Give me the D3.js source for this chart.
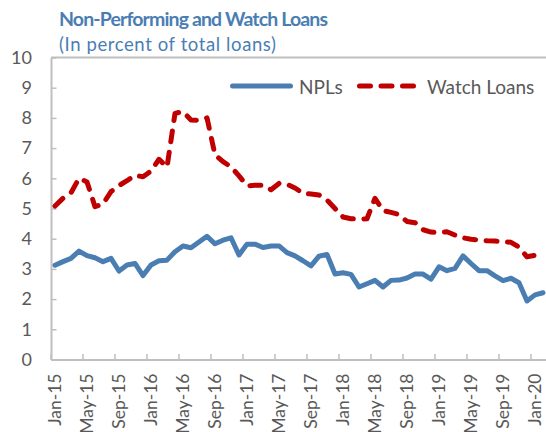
<!DOCTYPE html>
<html>
<head>
<meta charset="utf-8">
<script src="https://cdn.jsdelivr.net/npm/d3@7"></script>
<style>
  body { margin: 0; background: #fff; }
  svg { display: block; font-family: Lato, "Open Sans", sans-serif; }
</style>
</head>
<body>
<script>
// monthly categories, Jan-15 .. Feb-20
const months = [
  'Jan-15','Feb-15','Mar-15','Apr-15','May-15','Jun-15','Jul-15','Aug-15','Sep-15','Oct-15','Nov-15','Dec-15',
  'Jan-16','Feb-16','Mar-16','Apr-16','May-16','Jun-16','Jul-16','Aug-16','Sep-16','Oct-16','Nov-16','Dec-16',
  'Jan-17','Feb-17','Mar-17','Apr-17','May-17','Jun-17','Jul-17','Aug-17','Sep-17','Oct-17','Nov-17','Dec-17',
  'Jan-18','Feb-18','Mar-18','Apr-18','May-18','Jun-18','Jul-18','Aug-18','Sep-18','Oct-18','Nov-18','Dec-18',
  'Jan-19','Feb-19','Mar-19','Apr-19','May-19','Jun-19','Jul-19','Aug-19','Sep-19','Oct-19','Nov-19','Dec-19',
  'Jan-20','Feb-20'
];

const npl = [
  3.12, 3.24, 3.35, 3.59, 3.44, 3.37, 3.24, 3.35, 2.93, 3.13, 3.18, 2.78,
  3.13, 3.27, 3.29, 3.57, 3.76, 3.70, 3.89, 4.08, 3.83, 3.95, 4.03, 3.46,
  3.82, 3.82, 3.71, 3.76, 3.76, 3.54, 3.43, 3.27, 3.10, 3.42, 3.48, 2.83,
  2.87, 2.82, 2.40, 2.51, 2.62, 2.40, 2.62, 2.63, 2.70, 2.83, 2.83, 2.66,
  3.07, 2.94, 3.02, 3.43, 3.18, 2.94, 2.94, 2.77, 2.61, 2.69, 2.54, 1.94,
  2.14, 2.21
];

const watchLoans = [
  5.08, 5.34, 5.52, 6.00, 5.88, 5.06, 5.15, 5.56, 5.76, 5.92, 6.10, 6.05,
  6.24, 6.63, 6.37, 8.15, 8.21, 7.93, 7.92, 8.00, 6.78, 6.55, 6.38, 6.08,
  5.75, 5.77, 5.77, 5.62, 5.83, 5.80, 5.68, 5.50, 5.48, 5.45, 5.28, 5.00,
  4.72, 4.66, 4.65, 4.66, 5.34, 4.93, 4.87, 4.80, 4.57, 4.53, 4.30, 4.22,
  4.20, 4.23, 4.12, 4.03, 3.98, 3.96, 3.93, 3.92, 3.90, 3.88, 3.72, 3.40,
  3.45, 3.43
];

const yTicks = [0, 1, 2, 3, 4, 5, 6, 7, 8, 9, 10];
const xTickLabels = months.filter((d, i) => i % 4 === 0);

const blue = '#4a7eb3';
const red = '#c00000';
const grey = '#595959';
const axisGrey = '#bfbfbf';

const width = 546, height = 432;
const svg = d3.select('body').append('svg')
  .attr('width', width)
  .attr('height', height);

const x = d3.scaleBand()
  .domain(months)
  .range([51, 51 + 8 * months.length]);

const y = d3.scaleLinear()
  .domain([0, 10])
  .range([359.5, 57.5]);

const cx = (i) => x(months[i]) + x.bandwidth() / 2;

// title
svg.append('text')
  .attr('x', 59).attr('y', 26)
  .attr('fill', blue)
  .attr('font-weight', 'bold')
  .attr('font-size', 19.5)
  .attr('textLength', 269)
  .attr('lengthAdjust', 'spacing')
  .text('Non-Performing and Watch Loans');

svg.append('text')
  .attr('x', 59).attr('y', 51)
  .attr('fill', blue)
  .attr('font-size', 18.5)
  .attr('textLength', 217)
  .attr('lengthAdjust', 'spacing')
  .text('(In percent of total loans)');

// top border of plot
svg.append('line')
  .attr('x1', x.range()[0]).attr('x2', x.range()[1])
  .attr('y1', y(10)).attr('y2', y(10))
  .attr('stroke', axisGrey).attr('stroke-width', 2);

// y axis
const yAxis = svg.append('g')
  .attr('transform', 'translate(' + x.range()[0] + ',0)')
  .call(d3.axisLeft(y).tickValues(yTicks).tickSize(-5.5).tickSizeOuter(0).tickPadding(19));
yAxis.select('.domain').attr('stroke', axisGrey).attr('stroke-width', 2);
yAxis.selectAll('.tick line').attr('stroke', axisGrey).attr('stroke-width', 1.5);
yAxis.selectAll('.tick text')
  .attr('fill', grey)
  .attr('font-size', 18)
  .attr('font-family', 'Lato, sans-serif');

// x axis: labels at category centres, tick marks on category boundaries
const xAxis = svg.append('g')
  .attr('transform', 'translate(0,' + y(0) + ')')
  .call(d3.axisBottom(x).tickValues(xTickLabels).tickSize(0).tickSizeOuter(0));
xAxis.select('.domain').attr('stroke', axisGrey).attr('stroke-width', 2);
xAxis.selectAll('.tick text')
  .attr('fill', grey)
  .attr('font-size', 17.5)
  .attr('font-family', 'Lato, sans-serif')
  .attr('transform', 'rotate(-90)')
  .attr('x', -14)
  .attr('y', 0)
  .attr('dy', '0.36em')
  .style('text-anchor', 'end');

xAxis.selectAll('.bound')
  .data(xTickLabels)
  .join('line')
  .attr('class', 'bound')
  .attr('x1', d => x(d)).attr('x2', d => x(d))
  .attr('y1', 0).attr('y2', -5.5)
  .attr('stroke', axisGrey).attr('stroke-width', 1.5);

// series
const line = d3.line()
  .x((d, i) => cx(i))
  .y(d => y(d));

svg.append('path')
  .datum(npl)
  .attr('fill', 'none')
  .attr('stroke', blue)
  .attr('stroke-width', 5)
  .attr('stroke-linejoin', 'round')
  .attr('stroke-linecap', 'round')
  .attr('d', line);

svg.append('path')
  .datum(watchLoans)
  .attr('fill', 'none')
  .attr('stroke', red)
  .attr('stroke-width', 5)
  .attr('stroke-dasharray', '11 10.5')
  .attr('stroke-linejoin', 'round')
  .attr('stroke-linecap', 'round')
  .attr('d', line);

// legend
const legend = svg.append('g');
legend.append('line')
  .attr('x1', 232.5).attr('x2', 290.5).attr('y1', 86).attr('y2', 86)
  .attr('stroke', blue).attr('stroke-width', 5).attr('stroke-linecap', 'round');
legend.append('text')
  .attr('x', 299).attr('y', 94)
  .attr('fill', grey).attr('font-size', 19)
  .text('NPLs');
legend.append('line')
  .attr('x1', 359.5).attr('x2', 414).attr('y1', 86).attr('y2', 86)
  .attr('stroke', red).attr('stroke-width', 5)
  .attr('stroke-dasharray', '11 10.5').attr('stroke-linecap', 'round');
legend.append('text')
  .attr('x', 427).attr('y', 94)
  .attr('fill', grey).attr('font-size', 19)
  .text('Watch Loans');
</script>
</body>
</html>
